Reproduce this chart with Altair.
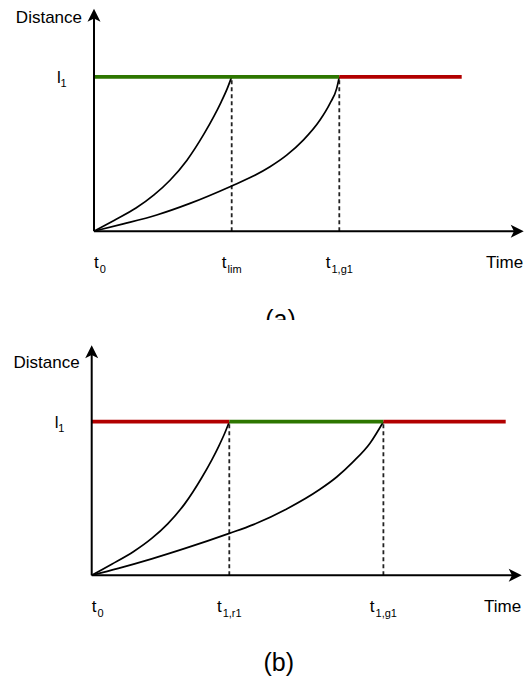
import altair as alt
import pandas as pd

# ---------------- data (time in arbitrary units, distance with l1 = 1) ----------------
L1 = 1.0

# panel (a)
A_TICKS = [0.0, 1.377, 2.453]
A_TICK_SUB = ["0", "lim", "1,g1"]
A_DASHED = [1.377, 2.453]
A_SEG_START = [0.0, 2.453]
A_SEG_END = [2.453, 3.677]
A_SEG_COLOR = ["#2D7600", "#B20000"]
A_C1_T = [0, 0.2, 0.42, 0.6, 0.76, 0.93, 1.1, 1.2, 1.27, 1.33, 1.377]
A_C1_D = [0, 0.07, 0.15, 0.235, 0.33, 0.46, 0.63, 0.745, 0.835, 0.92, 1.0]
A_C2_T = [0, 0.293, 0.627, 0.96, 1.377, 1.593, 1.76, 1.927, 2.093, 2.26, 2.36, 2.427, 2.453]
A_C2_D = [0, 0.047, 0.105, 0.18, 0.293, 0.357, 0.418, 0.493, 0.59, 0.72, 0.828, 0.925, 1.0]
A_XAXIS_END = 4.297
A_YAXIS_END = 1.44
A_CAPTION = "(a)"
A_CAPTION_POS = (1.865, -0.627)

# panel (b)
B_TICKS = [0.0, 1.376, 2.917]
B_TICK_SUB = ["0", "1,r1", "1,g1"]
B_DASHED = [1.376, 2.917]
B_SEG_START = [0.0, 1.376, 2.917]
B_SEG_END = [1.376, 2.917, 4.14]
B_SEG_COLOR = ["#B20000", "#2D7600", "#B20000"]
B_C1_T = [0, 0.2, 0.42, 0.6, 0.76, 0.93, 1.1, 1.2, 1.27, 1.33, 1.376]
B_C1_D = [0, 0.072, 0.155, 0.24, 0.335, 0.465, 0.635, 0.75, 0.84, 0.925, 1.0]
B_C2_T = [0, 0.266, 0.6, 0.933, 1.376, 1.616, 1.95, 2.283, 2.45, 2.616, 2.783, 2.917]
B_C2_D = [0, 0.045, 0.107, 0.175, 0.273, 0.33, 0.432, 0.56, 0.64, 0.74, 0.86, 1.0]
B_XAXIS_END = 4.30
B_YAXIS_END = 1.497
B_CAPTION = "(b)"
B_CAPTION_POS = (1.87, -0.621)

# ---------------- layout ----------------
FONT = "Liberation Sans"
PANEL_W = 516
KX = 100.0  # px per time unit
MAIN_FS, SUB_FS, CAP_FS = 17, 11, 25
ARROW_SIZE = 169
ARROW_RIGHT = "M0,0L-2,-1L-1.5,0L-2,1Z"
ARROW_UP = "M0,0L-1,2L0,1.5L1,2Z"

CW = {"t": 278, "0": 556, "1": 556, ",": 278, "l": 222, "i": 222,
      "m": 833, "g": 556, "r": 333}


def text_w(s, size):
    return sum(CW.get(c, 556) for c in s) * size / 1000.0


def make_panel(p):
    W, H = PANEL_W, p["h"]
    ox, oy, ky = p["ox"], p["oy"], p["ky"]
    xs = alt.Scale(domain=[-ox / KX, (W - ox) / KX], nice=False, zero=False)
    ys = alt.Scale(domain=[-(H - oy) / ky, oy / ky], nice=False, zero=False)

    def X(f):
        return alt.X(f, type="quantitative", scale=xs, axis=None)

    def Y(f):
        return alt.Y(f, type="quantitative", scale=ys, axis=None)

    # dashed verticals
    dash_df = pd.DataFrame({"t": p["dashed"], "d0": 0.0, "d1": L1})
    dashed = alt.Chart(dash_df).mark_rule(
        strokeDash=[4, 3], strokeWidth=1.8, color="#222222"
    ).encode(x=X("t"), y=Y("d0"), y2="d1")

    # curves
    rows = []
    for cid, (ts, ds) in enumerate(p["curves"]):
        for t, d in zip(ts, ds):
            rows.append({"curve": cid, "t": t, "d": d})
    curves = alt.Chart(pd.DataFrame(rows)).mark_line(
        color="black", strokeWidth=1.7, interpolate="monotone"
    ).encode(x=X("t"), y=Y("d"), detail="curve:N")

    # l1 level segments
    seg_df = pd.DataFrame({"t0": p["seg_start"], "t1": p["seg_end"],
                           "c": p["seg_color"], "d": L1})
    segs = alt.Chart(seg_df).mark_rule(strokeWidth=3.8).encode(
        x=X("t0"), x2="t1", y=Y("d"), color=alt.Color("c:N", scale=None)
    )

    # axes
    ax_df = pd.DataFrame({
        "x0": [0.0, 0.0], "y0": [0.0, 0.0],
        "x1": [p["xend"] - 8 / KX, 0.0], "y1": [0.0, p["yend"] - 8 / ky],
    })
    axes = alt.Chart(ax_df).mark_rule(strokeWidth=2, color="black").encode(
        x=X("x0"), y=Y("y0"), x2="x1", y2="y1"
    )
    arr_df = pd.DataFrame({"t": [p["xend"], 0.0], "d": [0.0, p["yend"]],
                           "s": [ARROW_RIGHT, ARROW_UP]})
    arrows = alt.Chart(arr_df).mark_point(
        filled=True, color="black", size=ARROW_SIZE, opacity=1, strokeWidth=0
    ).encode(x=X("t"), y=Y("d"), shape=alt.Shape("s:N", scale=None))

    txt = dict(font=FONT, color="black", baseline="alphabetic")

    # y-axis title and l1 label
    ylab_df = pd.DataFrame({"t": [0.0], "d": [L1]})
    dist = alt.Chart(ylab_df).mark_text(
        text="Distance", align="right", dx=-12, dy=-53.5, fontSize=MAIN_FS, **txt
    ).encode(x=X("t"), y=Y("d"))
    l_main = alt.Chart(ylab_df).mark_text(
        text="l", align="left", dx=-37, dy=6.5, fontSize=MAIN_FS, **txt
    ).encode(x=X("t"), y=Y("d"))
    l_sub = alt.Chart(ylab_df).mark_text(
        text="1", align="left", dx=-33.5, dy=10.5, fontSize=SUB_FS, **txt
    ).encode(x=X("t"), y=Y("d"))

    # tick labels t_xxx
    wt = text_w("t", MAIN_FS)
    mx, sx = [], []
    for i, (tk, sub) in enumerate(zip(p["ticks"], p["tick_sub"])):
        total = wt + 1 + text_w(sub, SUB_FS)
        left = 0.0 if i == 0 else -total / 2
        mx.append(tk + left / KX)
        sx.append(tk + (left + wt + 1) / KX)
    tl_df = pd.DataFrame({"mx": mx, "sx": sx, "sub": p["tick_sub"], "d": 0.0})
    t_main = alt.Chart(tl_df).mark_text(
        text="t", align="left", dy=37, fontSize=MAIN_FS, **txt
    ).encode(x=X("mx"), y=Y("d"))
    t_sub = alt.Chart(tl_df).mark_text(
        align="left", dy=41.5, fontSize=SUB_FS, **txt
    ).encode(x=X("sx"), y=Y("d"), text="sub:N")

    # x-axis title
    time_df = pd.DataFrame({"t": [p["xend"]], "d": [0.0]})
    time_lab = alt.Chart(time_df).mark_text(
        text="Time", align="right", dx=-0.5, dy=37, fontSize=MAIN_FS, **txt
    ).encode(x=X("t"), y=Y("d"))

    # caption
    cap_df = pd.DataFrame({"t": [p["cap_pos"][0]], "d": [p["cap_pos"][1]],
                           "cap": [p["caption"]]})
    cap = alt.Chart(cap_df).mark_text(
        align="center", fontSize=CAP_FS, clip=True, **txt
    ).encode(x=X("t"), y=Y("d"), text="cap:N")

    return alt.layer(
        dashed, curves, segs, axes, arrows, dist, l_main, l_sub,
        t_main, t_sub, time_lab, cap
    ).properties(width=W, height=H)


panel_a = make_panel(dict(
    h=312, ox=86.0, oy=223.2, ky=154.4,
    ticks=A_TICKS, tick_sub=A_TICK_SUB, dashed=A_DASHED,
    seg_start=A_SEG_START, seg_end=A_SEG_END, seg_color=A_SEG_COLOR,
    curves=[(A_C1_T, A_C1_D), (A_C2_T, A_C2_D)],
    xend=A_XAXIS_END, yend=A_YAXIS_END,
    caption=A_CAPTION, cap_pos=A_CAPTION_POS,
))

panel_b = make_panel(dict(
    h=356, ox=83.7, oy=255.3, ky=153.6,
    ticks=B_TICKS, tick_sub=B_TICK_SUB, dashed=B_DASHED,
    seg_start=B_SEG_START, seg_end=B_SEG_END, seg_color=B_SEG_COLOR,
    curves=[(B_C1_T, B_C1_D), (B_C2_T, B_C2_D)],
    xend=B_XAXIS_END, yend=B_YAXIS_END,
    caption=B_CAPTION, cap_pos=B_CAPTION_POS,
))

chart = alt.vconcat(panel_a, panel_b, spacing=0).properties(
    padding=0, background="white"
).configure_view(stroke=None)

chart.save("out.html", embed_options={"renderer": "svg", "actions": False})
